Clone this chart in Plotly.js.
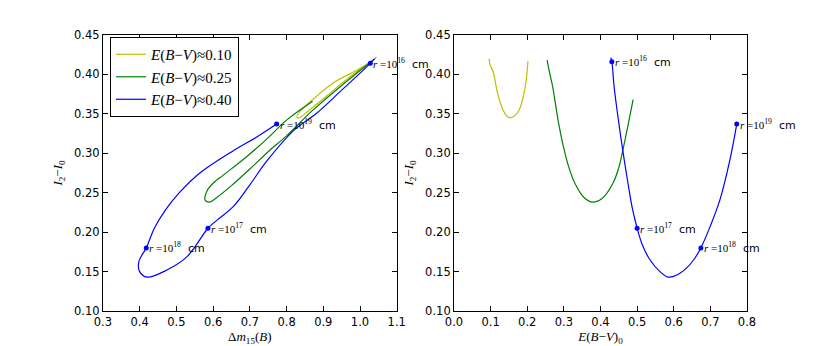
<!DOCTYPE html>
<html>
<head>
<meta charset="utf-8">
<script src="https://cdn.plot.ly/plotly-3.0.1.min.js"></script>
<style>
  html, body { margin: 0; padding: 0; background: #fff; }
  #chart { width: 830px; height: 346px; }
</style>
</head>
<body>
<div id="chart"></div>
<script>
/* Left panel: Delta m15(B) vs I2 - I0 */
const leftYellowX = [1.045, 1.03, 0.97, 0.91, 0.86, 0.835, 0.828, 0.835, 0.871, 0.93, 0.99, 1.03];
const leftYellowY = [0.422, 0.416, 0.396, 0.373, 0.354, 0.345, 0.346, 0.352, 0.368, 0.390, 0.405, 0.416];

const leftGreenX = [1.035, 0.95, 0.87, 0.80, 0.75, 0.70, 0.65, 0.61, 0.59, 0.578, 0.583, 0.60, 0.627, 0.692, 0.746, 0.80, 0.871];
const leftGreenY = [0.418, 0.386, 0.354, 0.322, 0.302, 0.280, 0.259, 0.244, 0.238, 0.241, 0.252, 0.262, 0.272, 0.296, 0.318, 0.342, 0.366];

const leftBlueX = [1.04, 1.028, 0.95, 0.88, 0.822, 0.746, 0.70, 0.654, 0.61, 0.586, 0.529, 0.474, 0.42, 0.40, 0.398, 0.418, 0.44, 0.47, 0.51, 0.564, 0.654, 0.72, 0.773];
const leftBlueY = [0.420, 0.414, 0.380, 0.350, 0.330, 0.290, 0.260, 0.232, 0.215, 0.205, 0.169, 0.152, 0.143, 0.150, 0.163, 0.180, 0.205, 0.228, 0.251, 0.275, 0.303, 0.321, 0.337];

/* Right panel: E(B-V)_0 vs I2 - I0 */
const rightYellowX = [0.096, 0.098, 0.107, 0.12, 0.134, 0.145, 0.156, 0.167, 0.178, 0.194, 0.202];
const rightYellowY = [0.420, 0.413, 0.403, 0.374, 0.355, 0.347, 0.345, 0.348, 0.355, 0.383, 0.417];

const rightGreenX = [0.254, 0.262, 0.27, 0.283, 0.298, 0.313, 0.33, 0.355, 0.379, 0.405, 0.434, 0.45, 0.461, 0.475, 0.489];
const rightGreenY = [0.418, 0.400, 0.383, 0.345, 0.310, 0.283, 0.262, 0.244, 0.238, 0.243, 0.262, 0.282, 0.304, 0.335, 0.368];

const rightBlueX = [0.428, 0.431, 0.437, 0.448, 0.461, 0.475, 0.487, 0.50, 0.515, 0.535, 0.56, 0.585, 0.61, 0.636, 0.656, 0.674, 0.70, 0.726, 0.753, 0.772];
const rightBlueY = [0.421, 0.416, 0.385, 0.345, 0.303, 0.262, 0.230, 0.205, 0.183, 0.165, 0.151, 0.143, 0.146, 0.155, 0.166, 0.180, 0.208, 0.241, 0.291, 0.337];

/* radius markers r = 10^16 .. 10^19 cm */
const radiusExp = ['16', '17', '18', '19'];
const leftDotX = [1.028, 0.586, 0.418, 0.773];
const leftDotY = [0.414, 0.205, 0.180, 0.337];
const rightDotX = [0.431, 0.50, 0.674, 0.772];
const rightDotY = [0.416, 0.205, 0.180, 0.337];

const legendNames = ['0.10', '0.25', '0.40'];
const COLORS = ['#bfbf00', '#008000', '#0000ff'];

const MATH = 'Liberation Serif, DejaVu Serif, serif';
const SANS = 'DejaVu Sans, sans-serif';

function ebv(v) {
  return '<i>E</i>(<i>B</i>\u2212<i>V</i>)\u2248' + v;
}

const traces = [];
const leftSets = [[leftYellowX, leftYellowY], [leftGreenX, leftGreenY], [leftBlueX, leftBlueY]];
const rightSets = [[rightYellowX, rightYellowY], [rightGreenX, rightGreenY], [rightBlueX, rightBlueY]];

leftSets.forEach((s, i) => {
  traces.push({
    x: s[0], y: s[1], type: 'scatter', mode: 'lines',
    line: { color: COLORS[i], width: 1.2, shape: 'spline', smoothing: 1 },
    name: ebv(legendNames[i]), xaxis: 'x', yaxis: 'y'
  });
});
rightSets.forEach((s, i) => {
  traces.push({
    x: s[0], y: s[1], type: 'scatter', mode: 'lines',
    line: { color: COLORS[i], width: 1.2, shape: 'spline', smoothing: 1 },
    showlegend: false, xaxis: 'x2', yaxis: 'y2'
  });
});
traces.push({
  x: leftDotX, y: leftDotY, type: 'scatter', mode: 'markers',
  marker: { color: COLORS[2], size: 5 }, showlegend: false, xaxis: 'x', yaxis: 'y'
});
traces.push({
  x: rightDotX, y: rightDotY, type: 'scatter', mode: 'markers',
  marker: { color: COLORS[2], size: 5 }, showlegend: false, xaxis: 'x2', yaxis: 'y2'
});

function rLabel(e) {
  return '<span style="font-family:' + MATH + '"><i>r</i> =10<sup>' + e + '</sup></span>  cm';
}

const annotations = [];
radiusExp.forEach((e, i) => {
  annotations.push({
    x: leftDotX[i], y: leftDotY[i], xref: 'x', yref: 'y',
    text: rLabel(e), showarrow: false, xanchor: 'left', yanchor: 'middle', xshift: 1,
    font: { family: SANS, size: 11, color: '#000' }
  });
  annotations.push({
    x: rightDotX[i], y: rightDotY[i], xref: 'x2', yref: 'y2',
    text: rLabel(e), showarrow: false, xanchor: 'left', yanchor: 'middle', xshift: 1,
    font: { family: SANS, size: 11, color: '#000' }
  });
});

const axisCommon = {
  showline: true, linecolor: '#000', linewidth: 1, mirror: 'ticks',
  ticks: 'inside', ticklen: 5, tickcolor: '#000',
  showgrid: false, zeroline: false,
  tickfont: { family: SANS, size: 11.5, color: '#000' },
  automargin: false
};

const layout = {
  width: 830, height: 346,
  paper_bgcolor: '#fff', plot_bgcolor: '#fff',
  margin: { l: 0, r: 0, t: 0, b: 0 },
  showlegend: true,
  legend: {
    x: 0.1325, y: 0.893, xanchor: 'left', yanchor: 'top',
    bordercolor: '#000', borderwidth: 1, bgcolor: '#fff',
    font: { family: MATH, size: 15, color: '#000' },
    tracegroupgap: 0, itemwidth: 30
  },
  xaxis: Object.assign({}, axisCommon, {
    domain: [0.124, 0.478], range: [0.3, 1.1], dtick: 0.1, tickformat: '.1f',
    anchor: 'y',
    title: { text: '\u0394<i>m</i><sub>15</sub>(<i>B</i>)', font: { family: MATH, size: 13, color: '#000' }, standoff: 0 }
  }),
  yaxis: Object.assign({}, axisCommon, {
    domain: [0.101, 0.899], range: [0.10, 0.45], dtick: 0.05, tickformat: '.2f',
    anchor: 'x',
    title: { text: '<i>I</i><sub>2</sub>\u2212<i>I</i><sub>0</sub>', font: { family: MATH, size: 13, color: '#000' }, standoff: 8 }
  }),
  xaxis2: Object.assign({}, axisCommon, {
    domain: [0.547, 0.9], range: [0.0, 0.8], dtick: 0.1, tickformat: '.1f',
    anchor: 'y2',
    title: { text: '<i>E</i>(<i>B</i>\u2212<i>V</i>)<sub>0</sub>', font: { family: MATH, size: 13, color: '#000' }, standoff: 0 }
  }),
  yaxis2: Object.assign({}, axisCommon, {
    domain: [0.101, 0.899], range: [0.10, 0.45], dtick: 0.05, tickformat: '.2f',
    anchor: 'x2',
    title: { text: '<i>I</i><sub>2</sub>\u2212<i>I</i><sub>0</sub>', font: { family: MATH, size: 13, color: '#000' }, standoff: 8 }
  }),
  annotations: annotations
};

Plotly.newPlot('chart', traces, layout, { displayModeBar: false, responsive: false });
</script>
</body>
</html>
